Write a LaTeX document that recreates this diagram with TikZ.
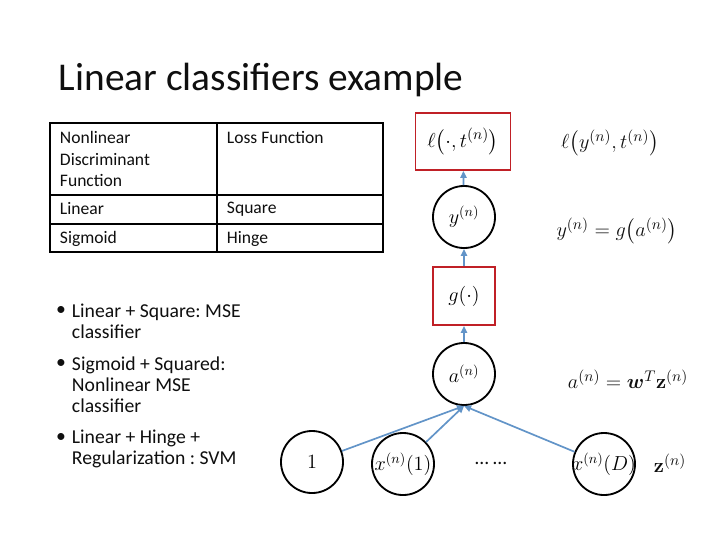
\documentclass[tikz,border=0pt]{standalone}
\usepackage{amsmath,amssymb}
\usepackage[no-math]{fontspec}
\setmainfont{Carlito}
\usetikzlibrary{arrows.meta, positioning}
\definecolor{clsred}{RGB}{192,32,38}
\definecolor{clsblue}{RGB}{98,148,200}
\definecolor{clsdark}{RGB}{15,15,15}
\frenchspacing

\begin{document}
\begin{tikzpicture}[x=0.025cm, y=-0.025cm,
  unit/.style={circle, draw=black, line width=1.3pt, minimum size=1.55cm, inner sep=0pt, font=\fontsize{14.5}{16}\selectfont},
  gate/.style={draw=clsred, line width=1.3pt, inner sep=0pt, font=\fontsize{15}{17}\selectfont},
  flow/.style={clsblue, line width=1.2pt, -{Triangle[length=5pt, width=4.5pt]}},
  cell/.style={clsdark, anchor=west, align=left, font=\fontsize{12.5}{15.6}\selectfont},
  item/.style={clsdark, anchor=west, align=left, font=\fontsize{14}{15}\selectfont},
  eqn/.style={clsdark, font=\fontsize{15}{17}\selectfont}]
\useasboundingbox (0,0) rectangle (720,540);
\fill[white] (0,0) rectangle (720,540);

% title
\node[clsdark, anchor=west, font=\fontsize{28}{32}\selectfont] (title) at (54,80) {Linear classifiers example};

% ---- table ----
\draw[line width=1.1pt] (50,123) rectangle (383,252);
\draw[line width=1.1pt] (217,123) -- (217,252);
\draw[line width=1.1pt] (50,195) -- (383,195);
\draw[line width=1.1pt] (50,224) -- (383,224);
\node[cell] (hdisc) at (55,159) {Nonlinear\\Discriminant\\Function};
\node[cell] (hloss) at (222,137) {Loss Function};
\node[cell] (lin) at (55,209) {Linear};
\node[cell] (sq) at (222,209) {Square};
\node[cell] (sig) at (55,239) {Sigmoid};
\node[cell] (hin) at (222,239) {Hinge};

% ---- bullets ----
\foreach \y/\t/\name in {
    321.5/{Linear + Square: MSE\\classifier}/one,
    385/{Sigmoid + Squared:\\Nonlinear MSE\\classifier}/two,
    449/{Linear + Hinge +\\Regularization : SVM}/three}{
  \node[item] (txt\name) at (67,\y) {\t};
}
\node[clsdark, font=\fontsize{14}{15}\selectfont] (bulone) at (61,311) {\textbullet};
\node[clsdark, font=\fontsize{14}{15}\selectfont] (bultwo) at (61,364) {\textbullet};
\node[clsdark, font=\fontsize{14}{15}\selectfont] (bulthree) at (61,438) {\textbullet};

% ---- network ----
\node[gate, minimum width=2.375cm, minimum height=1.425cm] (loss) at (463,141.5) {$\ell\big(\cdot, t^{(n)}\big)$};
\node[unit] (y) at (464,217) {$y^{(n)}$};
\node[gate, minimum width=1.55cm, minimum height=1.45cm] (g) at (464,296) {$g(\cdot)$};
\node[unit] (a) at (464,374) {$a^{(n)}$};
\node[unit] (one) at (312,462) {$1$};
\node[unit] (x1) at (403,464) {\makebox[30pt]{$x^{(n)}(1)$}};
\node[clsdark, font=\fontsize{14}{15}\selectfont] (dots) at (491,463) {\dots\ \dots};
\node[unit] (xD) at (604,464) {\makebox[30pt]{$x^{(n)}(D)$}};

\draw[flow] (y) -- (loss);
\draw[flow] (g) -- (y);
\draw[flow] (a) -- (g);
\draw[flow] (one) -- (a.south);
\draw[flow] (x1) -- (a.south);
\draw[flow] (xD) -- (a.south);

% ---- equations ----
\node[eqn] (eqloss) at (610,143) {$\ell\big(y^{(n)}, t^{(n)}\big)$};
\node[eqn] (eqy) at (617,231) {$y^{(n)} = g\big(a^{(n)}\big)$};
\node[eqn] (eqa) at (628,379) {$a^{(n)} = \boldsymbol{w}^{T}\mathbf{z}^{(n)}$};
\node[eqn] (eqz) at (670,463) {$\mathbf{z}^{(n)}$};
\end{tikzpicture}
\end{document}
